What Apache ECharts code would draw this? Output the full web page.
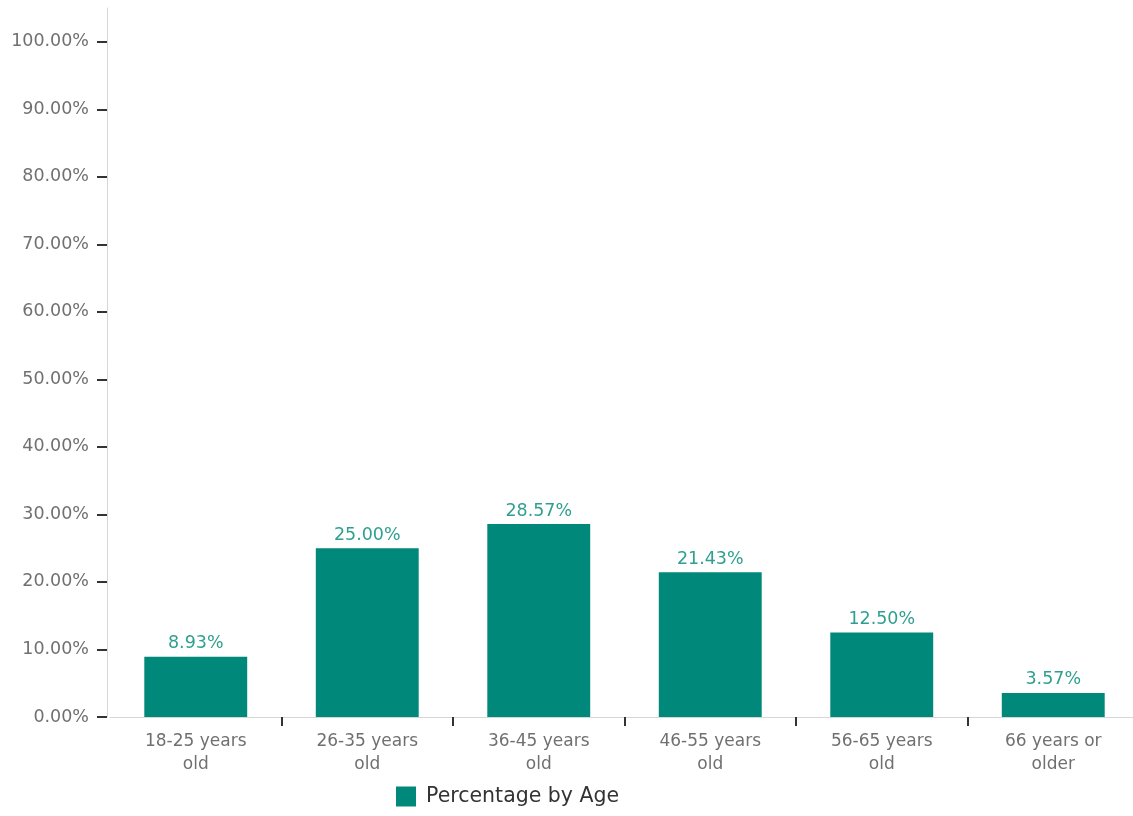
<!DOCTYPE html>
<html>
<head>
<meta charset="utf-8">
<script src="https://cdn.jsdelivr.net/npm/echarts@6/dist/echarts.min.js"></script>
<style>
  html, body { margin: 0; padding: 0; background: #ffffff; overflow: hidden; }
  /* the plot area runs a few pixels past the right edge of the window */
  #chart { width: 1140px; height: 816px; }
</style>
</head>
<body>
<div id="chart"></div>
<script>
// Age groups and their share of respondents (percent)
const categories = ['18-25 years\nold', '26-35 years\nold', '36-45 years\nold', '46-55 years\nold', '56-65 years\nold', '66 years or\nolder'];
const percentages = [8.93, 25.00, 28.57, 21.43, 12.50, 3.57];
const yTicks = [0, 10, 20, 30, 40, 50, 60, 70, 80, 90, 100];
const seriesName = 'Percentage by Age';

const FONT = '"DejaVu Sans", "Noto Sans", sans-serif';
const BAR = '#00897a';

const chart = echarts.init(document.getElementById('chart'), null, { renderer: 'canvas' });

chart.setOption({
  animation: false,
  textStyle: { fontFamily: FONT },
  grid: { left: 110, width: 1029, top: 8, bottom: 99, containLabel: false },
  legend: {
    data: [seriesName],
    left: 391,
    top: 781,
    itemWidth: 20,
    itemHeight: 20,
    itemGap: 10,
    icon: 'rect',
    textStyle: { color: '#333333', fontSize: 20.5, fontFamily: FONT, padding: [0, 0, 0, 5] }
  },
  xAxis: {
    type: 'category',
    data: categories,
    boundaryGap: true,
    axisLine: { show: true, lineStyle: { color: '#d6d6d6', width: 1 } },
    axisTick: {
      show: true,
      length: 9,
      interval: function (idx) { return idx !== 0; },
      lineStyle: { color: '#333333', width: 2 }
    },
    axisLabel: {
      color: '#707070',
      fontSize: 17,
      lineHeight: 23,
      margin: 13,
      interval: 0,
      fontFamily: FONT
    }
  },
  yAxis: {
    type: 'value',
    min: 0,
    max: 105,
    interval: 10,
    offset: 3,
    axisLine: { show: true, lineStyle: { color: '#d6d6d6', width: 1 } },
    axisTick: {
      show: true,
      length: 10,
      customValues: yTicks,
      lineStyle: { color: '#333333', width: 2 }
    },
    splitLine: { show: false },
    axisLabel: {
      customValues: yTicks,
      color: '#707070',
      fontSize: 17.5,
      margin: 18,
      fontFamily: FONT,
      formatter: function (v) { return v.toFixed(2) + '%'; }
    }
  },
  series: [{
    name: seriesName,
    type: 'bar',
    data: percentages,
    barWidth: '60%',
    itemStyle: { color: BAR },
    label: {
      show: true,
      position: 'top',
      distance: 4,
      color: '#2f9f8f',
      fontSize: 17.5,
      fontFamily: FONT,
      formatter: function (p) { return p.value.toFixed(2) + '%'; }
    }
  }]
});
</script>
</body>
</html>
